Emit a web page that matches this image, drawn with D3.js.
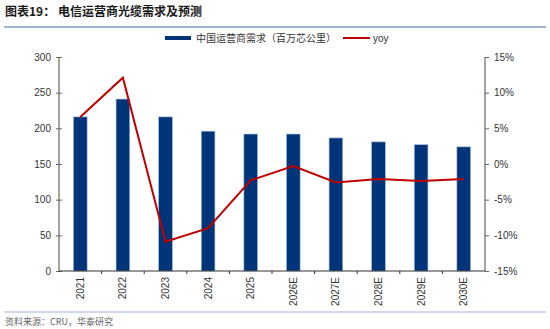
<!DOCTYPE html>
<html>
<head>
<meta charset="utf-8">
<script src="https://cdn.jsdelivr.net/npm/d3@7"></script>
<style>
  body { margin: 0; background: #fff; }
  svg { display: block; font-family: Arial, "Liberation Sans", sans-serif; }
</style>
</head>
<body>
<svg id="chart" width="550" height="329"></svg>
<script>
// Chart data
const categories = ["2021", "2022", "2023", "2024", "2025", "2026E", "2027E", "2028E", "2029E", "2030E"];
const demand = [216, 241, 216, 196, 192, 192, 186.5, 181, 177, 174];   // 百万芯公里
const yoy = [6.6, 12.1, -10.9, -9.0, -2.3, -0.3, -2.6, -2.1, -2.4, -2.1]; // %
const leftTicks = [0, 50, 100, 150, 200, 250, 300];
const rightTicks = [-15, -10, -5, 0, 5, 10, 15];

const svg = d3.select("#chart");
const m = { left: 59, right: 485, top: 57, bottom: 271 };

const x = d3.scaleBand().domain(categories).range([m.left, m.right]).paddingInner(0.68).paddingOuter(0.34);
const xTicks = d3.scaleBand().domain(categories).range([m.left, m.right]);
const yL = d3.scaleLinear().domain([0, 300]).range([m.bottom, m.top]);
const yR = d3.scaleLinear().domain([-15, 15]).range([m.bottom, m.top]);

// Title
svg.append("text").attr("x", 5).attr("y", 16)
  .attr("font-size", 12).attr("font-weight", "bold").attr("fill", "#1a1a1a")
  .attr("font-family", "'Noto Sans CJK SC', sans-serif")
  .text("图表19：  电信运营商光缆需求及预测");
svg.append("line").attr("x1", 4).attr("x2", 546).attr("y1", 27).attr("y2", 27)
  .attr("stroke", "#9db5d3").attr("stroke-width", 2);

// Legend
const lg = svg.append("g");
lg.append("rect").attr("x", 165).attr("y", 36).attr("width", 26).attr("height", 4).attr("fill", "#003478");
lg.append("text").attr("x", 196).attr("y", 42).attr("font-size", 10).attr("fill", "#333")
  .attr("font-family", "'Noto Sans CJK SC', sans-serif")
  .text("中国运营商需求（百万芯公里）");
lg.append("line").attr("x1", 343).attr("x2", 370).attr("y1", 38).attr("y2", 38)
  .attr("stroke", "#c00000").attr("stroke-width", 2);
lg.append("text").attr("x", 373).attr("y", 42).attr("font-size", 10).attr("fill", "#333").text("yoy");

// Bars
svg.append("g").selectAll("rect").data(categories).join("rect")
  .attr("x", d => x(d)).attr("width", x.bandwidth())
  .attr("y", (d, i) => yL(demand[i]))
  .attr("height", (d, i) => yL(0) - yL(demand[i]))
  .attr("fill", "#003478").attr("stroke", "#9db5d3").attr("stroke-width", 0.6);

// yoy line
const line = d3.line().x((d, i) => x(categories[i]) + x.bandwidth() / 2).y(d => yR(d));
svg.append("path").datum(yoy).attr("d", line)
  .attr("fill", "none").attr("stroke", "#c00000").attr("stroke-width", 2).attr("stroke-linejoin", "miter");

// Left axis
const gL = svg.append("g").attr("transform", `translate(${m.left},0)`)
  .call(d3.axisLeft(yL).tickValues(leftTicks).tickSize(4).tickPadding(4));
// Right axis
const gR = svg.append("g").attr("transform", `translate(${m.right},0)`)
  .call(d3.axisRight(yR).tickValues(rightTicks).tickSize(4).tickPadding(5).tickFormat(d => d + "%"));
[gL, gR].forEach(g => {
  g.select(".domain").attr("stroke", "#666").attr("stroke-width", 1.2).attr("d",
    `M0,${m.top}V${m.bottom}`);
  g.selectAll(".tick line").attr("stroke", "#666");
  g.selectAll(".tick text").attr("font-size", 10).attr("fill", "#333").attr("font-family", "Arial, 'Liberation Sans', sans-serif");
});
gL.selectAll(".tick line").attr("x2", 3);
gL.selectAll(".tick line").attr("x1", -3);

// Bottom axis
svg.append("line").attr("x1", m.left).attr("x2", m.right).attr("y1", m.bottom).attr("y2", m.bottom)
  .attr("stroke", "#333").attr("stroke-width", 1.2);
svg.append("g").selectAll("line").data(categories.slice(1)).join("line")
  .attr("x1", d => xTicks(d)).attr("x2", d => xTicks(d))
  .attr("y1", m.bottom).attr("y2", m.bottom + 3).attr("stroke", "#333");
svg.append("g").selectAll("text").data(categories).join("text")
  .attr("transform", d => `translate(${x(d) + x.bandwidth() / 2 + 3.5},${m.bottom + 6}) rotate(-90)`)
  .attr("text-anchor", "end").attr("font-size", 10).attr("fill", "#333")
  .text(d => d);

// Footer
svg.append("line").attr("x1", 4).attr("x2", 546).attr("y1", 312).attr("y2", 312)
  .attr("stroke", "#9db5d3").attr("stroke-width", 1);
svg.append("text").attr("x", 5).attr("y", 325).attr("font-size", 9).attr("fill", "#666")
  .attr("font-family", "'Noto Sans CJK SC', sans-serif")
  .text("资料来源：CRU，华泰研究");
</script>
</body>
</html>
